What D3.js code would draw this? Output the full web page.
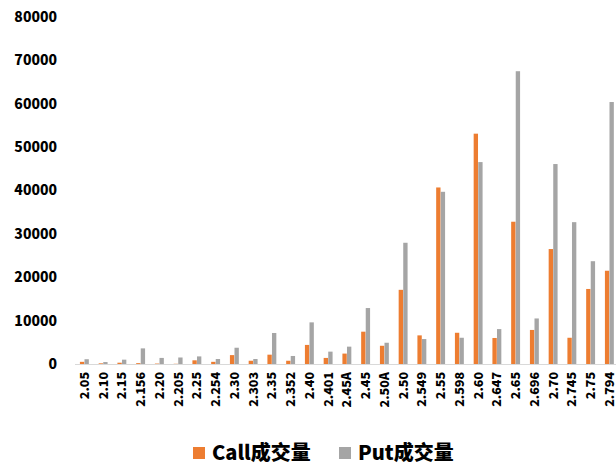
<!DOCTYPE html>
<html>
<head>
<meta charset="utf-8">
<script src="https://cdn.jsdelivr.net/npm/d3@7"></script>
<style>
  body { margin: 0; background: #fff; }
  text { font-family: "Noto Sans CJK SC", "Open Sans", sans-serif; font-weight: 900; fill: #000; }
</style>
</head>
<body>
<div id="chart"></div>
<script>
var strikes = ["2.05","2.10","2.15","2.156","2.20","2.205","2.25","2.254","2.30","2.303","2.35","2.352","2.40","2.401","2.45A","2.45","2.50A","2.50","2.549","2.55","2.598","2.60","2.647","2.65","2.696","2.70","2.745","2.75","2.794"];
var callVol = [500,150,300,200,100,50,850,500,2050,750,2150,750,4400,1400,2400,7450,4200,17100,6600,40700,7200,53100,6000,32800,7850,26500,6050,17300,21500];
var putVol = [1100,450,1000,3600,1400,1500,1750,1150,3750,1150,7150,1850,9600,2850,4000,12900,4900,27950,5750,39700,6050,46550,8050,67500,10500,46100,32700,23700,60400];
var yTicks = [0,10000,20000,30000,40000,50000,60000,70000,80000];
var seriesNames = ["Call成交量", "Put成交量"];
var colors = ["#ED7D31", "#A5A5A5"];

var width = 616, height = 466;
var margin = {top: 17, left: 75, bottom: 102};
var plotRight = 618.75;

var svg = d3.select("#chart").append("svg")
    .attr("width", width)
    .attr("height", height);

var x = d3.scaleBand()
    .domain(strikes)
    .range([margin.left, plotRight])
    .paddingInner(0.5)
    .paddingOuter(0.25);

var x1 = d3.scaleBand()
    .domain([0, 1])
    .range([0, x.bandwidth()])
    .padding(0.05);

var y = d3.scaleLinear()
    .domain([0, 80000])
    .range([height - margin.bottom, margin.top]);

// y labels
svg.append("g")
    .selectAll("text")
    .data(yTicks)
    .enter().append("text")
    .attr("x", 57)
    .attr("y", function(d) { return y(d); })
    .attr("dy", "0.35em")
    .attr("text-anchor", "end")
    .style("font-size", "14px")
    .text(function(d) { return d; });

// bars
var groups = svg.append("g")
    .selectAll("g")
    .data(strikes)
    .enter().append("g")
    .attr("transform", function(d) { return "translate(" + x(d) + ",0)"; });

groups.selectAll("rect")
    .data(function(d, i) { return [callVol[i], putVol[i]]; })
    .enter().append("rect")
    .attr("x", function(d, j) { return x1(j); })
    .attr("width", x1.bandwidth())
    .attr("y", function(d) { return y(d); })
    .attr("height", function(d) { return y(0) - y(d); })
    .attr("fill", function(d, j) { return colors[j]; });

// axis line
svg.append("line")
    .attr("x1", margin.left)
    .attr("x2", width)
    .attr("y1", y(0) + 0.5)
    .attr("y2", y(0) + 0.5)
    .attr("stroke", "#d9d9d9")
    .attr("stroke-width", 1);

// x labels
svg.append("g")
    .selectAll("text")
    .data(strikes)
    .enter().append("text")
    .attr("transform", function(d) {
      return "translate(" + (x(d) + x.bandwidth() / 2) + "," + (y(0) + 8) + ") rotate(-90)";
    })
    .attr("dy", "0.35em")
    .attr("text-anchor", "end")
    .style("font-size", "12.5px")
    .text(function(d) { return d; });

// legend
var legend = svg.append("g");
var legendX = [193, 339];
seriesNames.forEach(function(name, i) {
  legend.append("rect")
      .attr("x", legendX[i])
      .attr("y", 447)
      .attr("width", 12)
      .attr("height", 12)
      .attr("fill", colors[i]);
  legend.append("text")
      .attr("x", legendX[i] + 19)
      .attr("y", 453)
      .attr("dy", "0.35em")
      .style("font-size", "20px")
      .text(name);
});
</script>
</body>
</html>
